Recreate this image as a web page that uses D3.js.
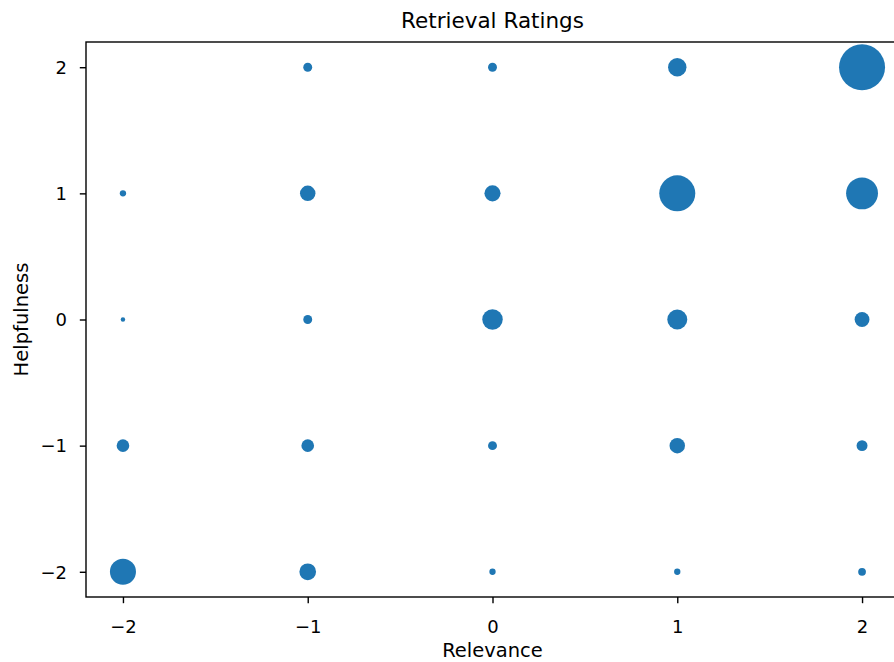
<!DOCTYPE html>
<html>
<head>
<meta charset="utf-8">
<script src="https://cdn.jsdelivr.net/npm/d3@7"></script>
<style>
  html, body { margin: 0; padding: 0; background: #fff; }
  svg { display: block; font-family: "DejaVu Sans", sans-serif; }
</style>
</head>
<body>
<script>
// ---- data ----
const relevance   = [-1, 0, 1, 2,  -2, -1, 0, 1, 2,  -2, -1, 0, 1, 2,  -2, -1, 0, 1, 2,  -2, -1, 0, 1, 2];
const helpfulness = [ 2, 2, 2, 2,   1,  1, 1, 1, 1,   0,  0, 0, 0, 0,  -1, -1,-1,-1,-1,  -2, -2,-2,-2,-2];
const counts      = [ 4, 4,17,106,  2, 12,13,65,51,   1,  4,21,20,11,   8,  8, 4,12, 6,  34, 14, 2, 2, 3];
const xTicks = [-2, -1, 0, 1, 2];
const yTicks = [-2, -1, 0, 1, 2];
const xTickLabels = ["\u22122", "\u22121", "0", "1", "2"];
const yTickLabels = ["\u22122", "\u22121", "0", "1", "2"];
const titleText = "Retrieval Ratings";
const xLabel = "Relevance";
const yLabel = "Helpfulness";

// ---- layout ----
const W = 894, H = 662;
const mLeft = 86, mTop = 42, mRight = 899, mBottom = 597;
const color = "#1f77b4";

const svg = d3.select("body").append("svg").attr("width", W).attr("height", H);

const x = d3.scaleLinear().domain([-2.2, 2.2]).range([mLeft, mRight]);
const y = d3.scaleLinear().domain([-2.2, 2.2]).range([mBottom, mTop]);
const r = d3.scaleSqrt().domain([0, d3.max(counts)]).range([0, 23]);

const pts = counts.map((c, i) => ({ rx: relevance[i], hy: helpfulness[i], c }));

svg.append("g").selectAll("circle").data(pts).join("circle")
  .attr("cx", d => x(d.rx))
  .attr("cy", d => y(d.hy))
  .attr("r", d => r(d.c))
  .attr("fill", color);

// axes
const xAxis = d3.axisBottom(x).tickValues(xTicks)
  .tickFormat((d, i) => xTickLabels[i]).tickSize(6.2).tickPadding(6);
const yAxis = d3.axisLeft(y).tickValues(yTicks)
  .tickFormat((d, i) => yTickLabels[i]).tickSize(6.2).tickPadding(6);

const gx = svg.append("g").attr("transform", `translate(0,${mBottom})`).call(xAxis);
const gy = svg.append("g").attr("transform", `translate(${mLeft},0)`).call(yAxis);
[gx, gy].forEach(g => {
  g.select(".domain").remove();
  g.selectAll(".tick line").attr("stroke", "#000").attr("stroke-width", 1.4);
  g.selectAll(".tick text").attr("fill", "#000").style("font-size", "18px")
    .style("font-family", "'DejaVu Sans', sans-serif");
});
gx.selectAll(".tick text").attr("dy", null).attr("y", 0)
  .attr("transform", "translate(0,36)");
gy.selectAll(".tick text").attr("dy", "0.35em").attr("x", -19);

// frame (spines)
svg.append("rect")
  .attr("x", mLeft).attr("y", mTop)
  .attr("width", mRight - mLeft).attr("height", mBottom - mTop)
  .attr("fill", "none").attr("stroke", "#000").attr("stroke-width", 1.4);

// title & labels
svg.append("text").attr("x", (mLeft + mRight) / 2).attr("y", 28)
  .attr("text-anchor", "middle").style("font-size", "21.5px").text(titleText);
svg.append("text").attr("x", (mLeft + mRight) / 2).attr("y", 657)
  .attr("text-anchor", "middle").style("font-size", "19.5px").text(xLabel);
svg.append("text").attr("transform", `translate(27.5,${(mTop + mBottom) / 2}) rotate(-90)`)
  .attr("text-anchor", "middle").style("font-size", "19.5px").text(yLabel);
</script>
</body>
</html>
